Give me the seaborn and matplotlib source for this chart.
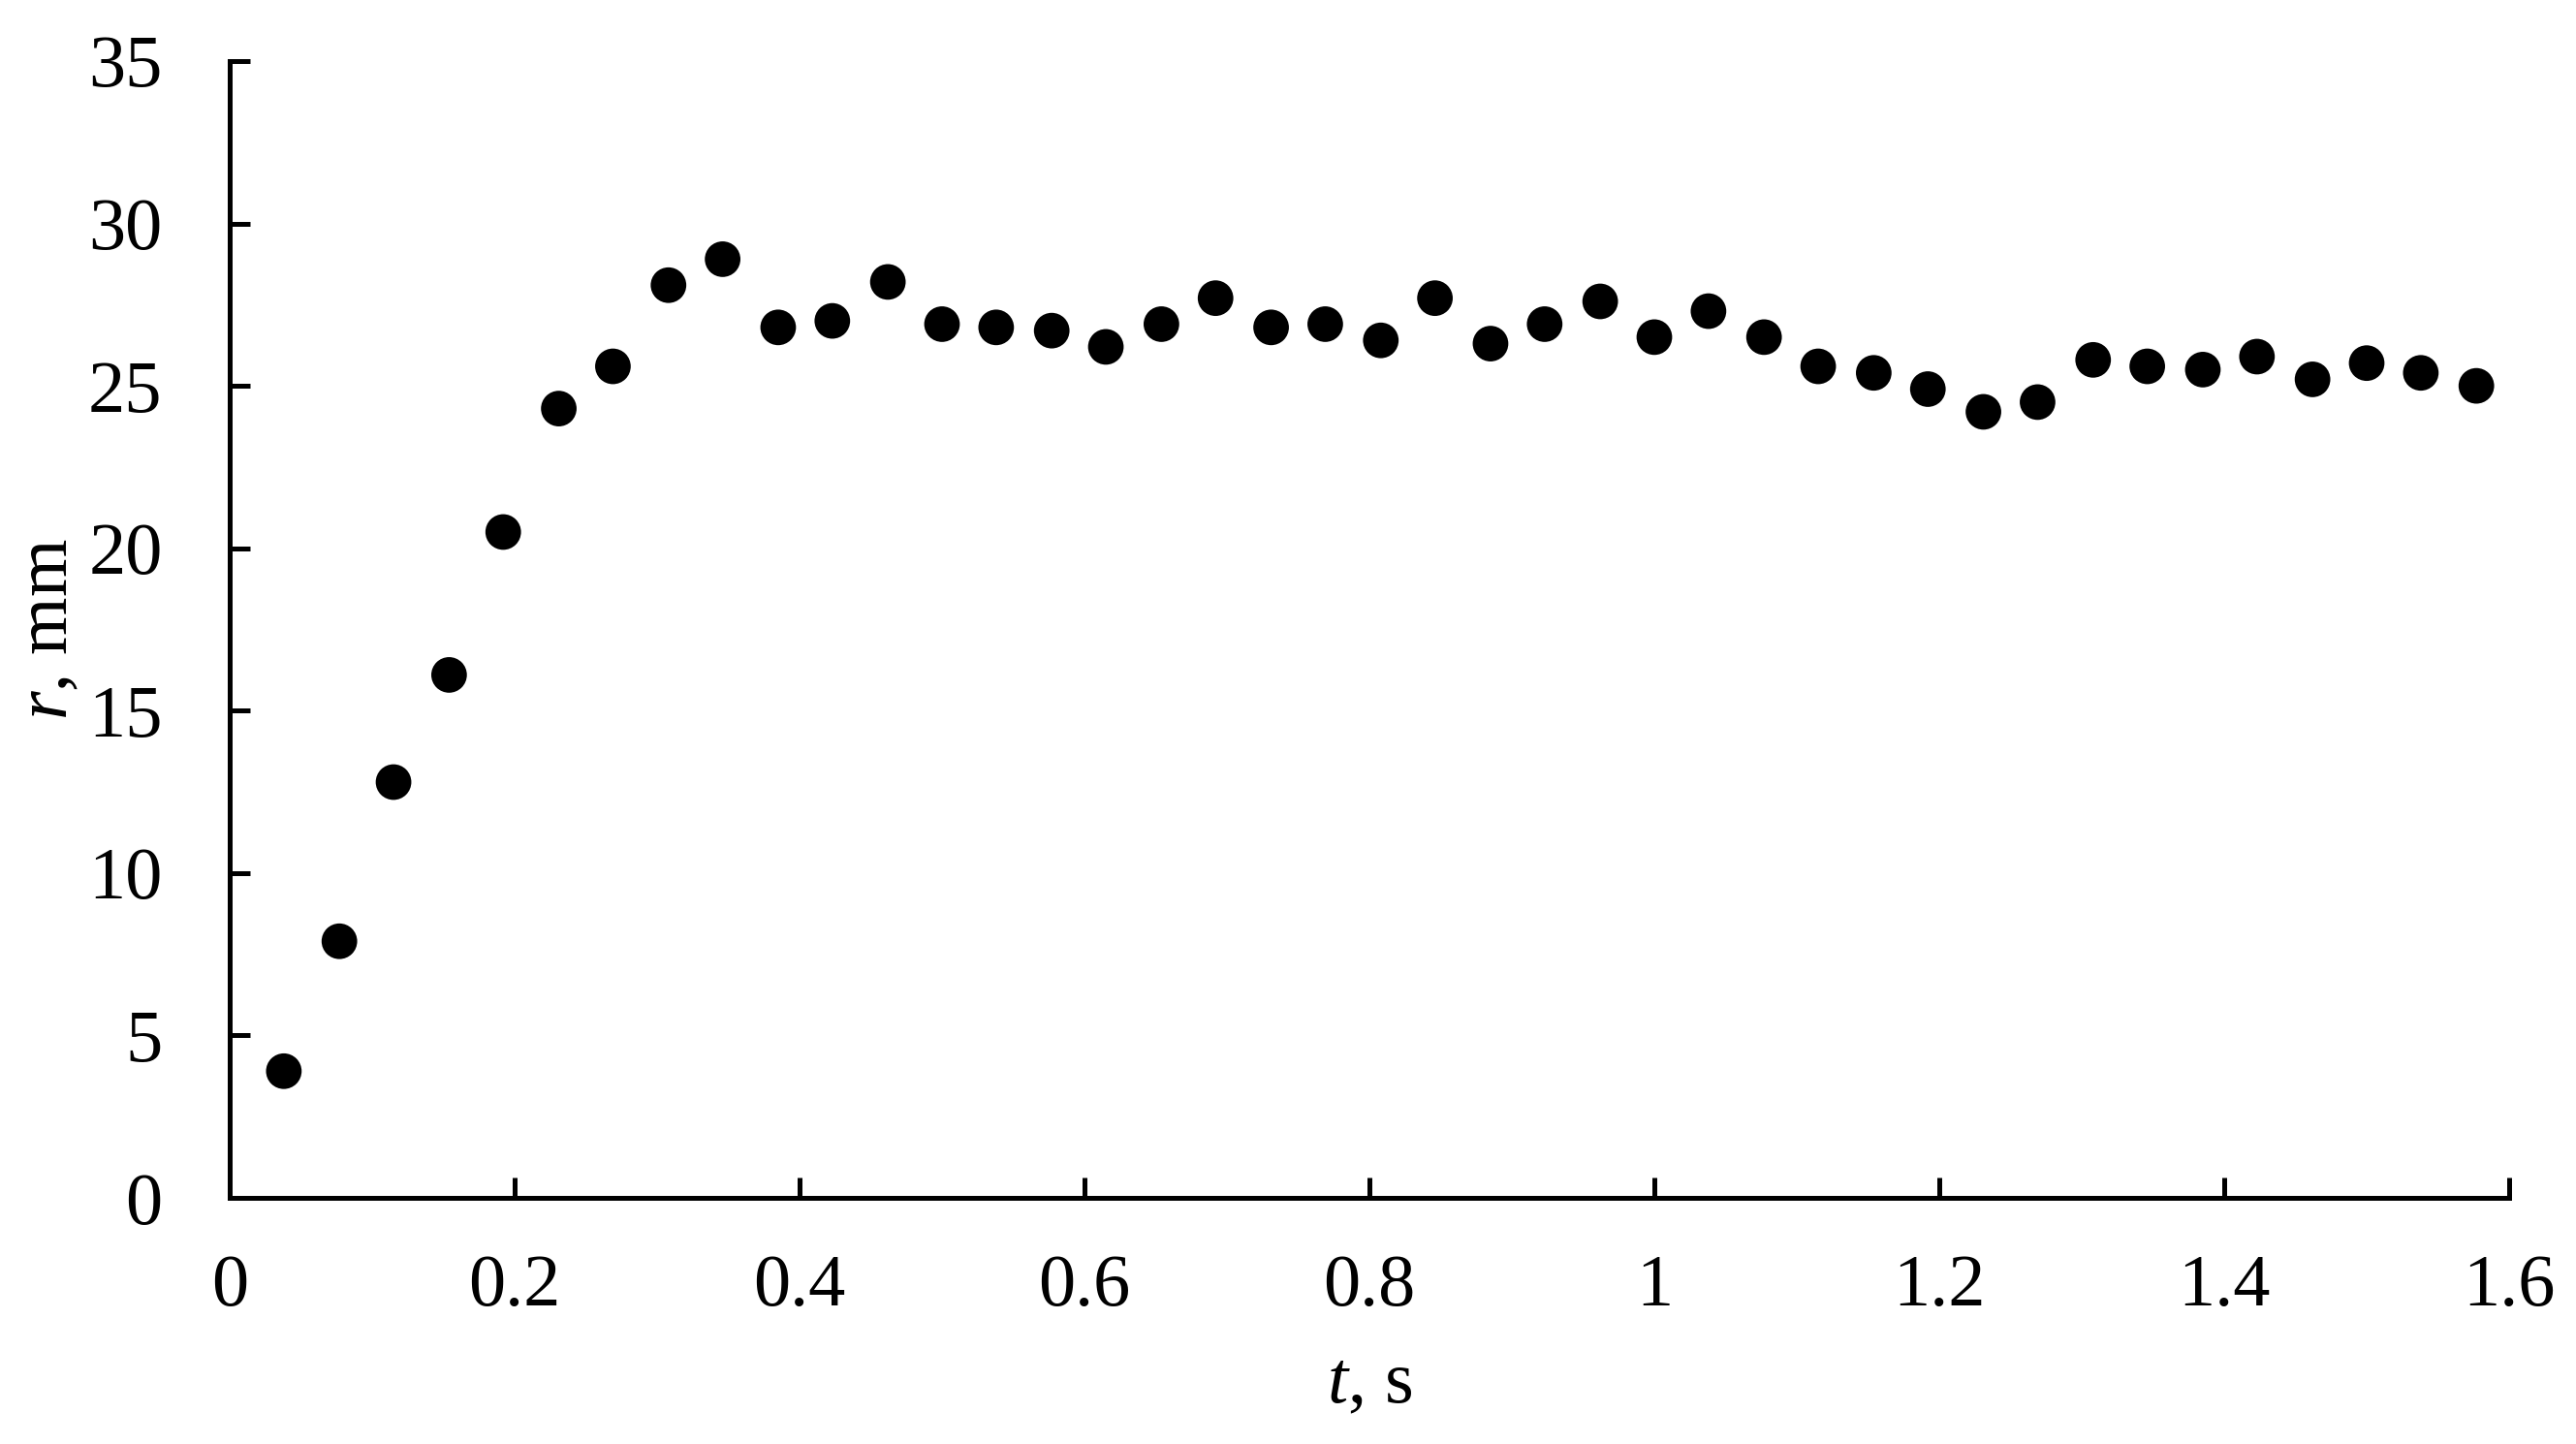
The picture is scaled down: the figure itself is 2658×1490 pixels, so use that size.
import matplotlib
matplotlib.use("Agg")
import matplotlib.pyplot as plt
import seaborn as sns
import pandas as pd
from matplotlib.ticker import FuncFormatter

# ---- data ----
t_s = [0.038, 0.077, 0.115, 0.154, 0.192, 0.231, 0.269, 0.308, 0.346, 0.385,
       0.423, 0.462, 0.500, 0.538, 0.577, 0.615, 0.654, 0.692, 0.731, 0.769,
       0.808, 0.846, 0.885, 0.923, 0.962, 1.000, 1.038, 1.077, 1.115, 1.154,
       1.192, 1.231, 1.269, 1.308, 1.346, 1.385, 1.423, 1.462, 1.500, 1.538,
       1.577]
r_mm = [3.9, 7.9, 12.8, 16.1, 20.5, 24.3, 25.6, 28.1, 28.9, 26.8,
        27.0, 28.2, 26.9, 26.8, 26.7, 26.2, 26.9, 27.7, 26.8, 26.9,
        26.4, 27.7, 26.3, 26.9, 27.6, 26.5, 27.3, 26.5, 25.6, 25.4,
        24.9, 24.2, 24.5, 25.8, 25.6, 25.5, 25.9, 25.2, 25.7, 25.4,
        25.0]
x_ticks = [0, 0.2, 0.4, 0.6, 0.8, 1.0, 1.2, 1.4, 1.6]
y_ticks = [0, 5, 10, 15, 20, 25, 30, 35]

df = pd.DataFrame({"t": t_s, "r": r_mm})

sns.set_theme(style="ticks")
plt.rcParams["font.family"] = ["Liberation Serif", "DejaVu Serif"]
plt.rcParams["mathtext.fontset"] = "custom"
plt.rcParams["mathtext.rm"] = "Liberation Serif"
plt.rcParams["mathtext.it"] = "Liberation Serif:italic"

fig = plt.figure(figsize=(26.58, 14.90), dpi=100)
ax = fig.add_axes([237 / 2658, 1 - 1236 / 1490, (2589 - 237) / 2658, (1236 - 63) / 1490])

sns.scatterplot(data=df, x="t", y="r", ax=ax, color="black", s=700,
                linewidth=0, edgecolor="none", legend=False, zorder=3)

ax.set_xlim(0, 1.6)
ax.set_ylim(0, 35)
ax.set_xticks(x_ticks)
ax.set_yticks(y_ticks)
ax.xaxis.set_major_formatter(FuncFormatter(lambda v, p: f"{v:g}"))
ax.yaxis.set_major_formatter(FuncFormatter(lambda v, p: f"{v:g}"))

for side in ["top", "right"]:
    ax.spines[side].set_visible(False)
for side in ["left", "bottom"]:
    ax.spines[side].set_linewidth(3.6)
    ax.spines[side].set_color("black")
    ax.spines[side].set_capstyle("projecting")

ax.tick_params(axis="both", direction="in", length=15, width=3.6,
               colors="black", labelsize=55)
ax.tick_params(axis="y", pad=50)
ax.tick_params(axis="x", pad=42)

ax.set_xlabel(r"$t$, s", fontsize=55, labelpad=22, color="black")
ax.set_ylabel(r"$r$, mm", fontsize=55, labelpad=4, color="black")
ax.grid(False)
ax.set_facecolor("white")
fig.patch.set_facecolor("white")

fig.savefig("out.png", dpi=100, facecolor="white")
